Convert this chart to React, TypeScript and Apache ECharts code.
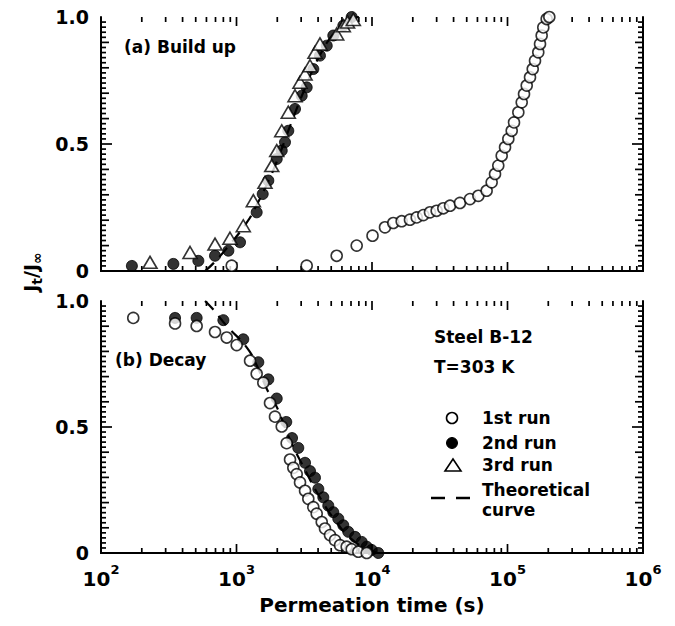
import React, { useEffect, useRef } from 'react';
import * as echarts from 'echarts';

const FONT = '"DejaVu Sans", "Liberation Sans", sans-serif';

// ---------- (a) Build up ----------
const buildRun1T = [922, 3296, 5487, 7709, 10090, 12470, 14360, 16560, 19060, 21380, 23920, 26790, 30000, 33590, 37670, 44580, 52850, 60950, 70150, 76400, 80900, 85500, 90600, 95900, 101400, 107400, 111700, 120200, 127300, 132400, 138600, 146600, 153500, 159600, 168700, 173800, 178700, 183700, 194600, 203500];
const buildRun1Y = [0.021, 0.021, 0.06, 0.10, 0.139, 0.172, 0.189, 0.196, 0.202, 0.211, 0.22, 0.231, 0.237, 0.247, 0.257, 0.268, 0.283, 0.296, 0.316, 0.349, 0.382, 0.415, 0.454, 0.487, 0.52, 0.552, 0.585, 0.625, 0.664, 0.697, 0.73, 0.763, 0.795, 0.828, 0.861, 0.894, 0.927, 0.959, 0.992, 1.0];

const buildRun2T = [169, 342, 523, 694, 871, 1062, 1409, 1561, 1717, 1981, 2157, 2280, 2411, 2703, 3028, 3296, 3690, 4130, 4634, 5180, 6140, 7080];
const buildRun2Y = [0.02, 0.028, 0.04, 0.06, 0.08, 0.113, 0.231, 0.303, 0.356, 0.441, 0.474, 0.507, 0.552, 0.638, 0.69, 0.723, 0.795, 0.848, 0.887, 0.927, 0.966, 1.0];

const buildRun3T = [230, 454, 694, 895, 1122, 1331, 1622, 1820, 1981, 2157, 2411, 2703, 2943, 3205, 3487, 3795, 4130, 5487, 6140, 6600, 7280];
const buildRun3Y = [0.034, 0.073, 0.106, 0.129, 0.178, 0.277, 0.349, 0.415, 0.474, 0.552, 0.625, 0.69, 0.743, 0.776, 0.808, 0.861, 0.894, 0.933, 0.966, 0.98, 0.99];

const buildTheoryT = [586, 674, 847, 1189, 1409, 1671, 1981, 2483, 3205, 4130, 5333, 6887, 8000];
const buildTheoryY = [0, 0.03, 0.09, 0.19, 0.26, 0.34, 0.43, 0.57, 0.72, 0.85, 0.94, 0.99, 1.0];

// ---------- (b) Decay ----------
const decayRun1T = [173, 352, 508, 694, 847, 1003, 1259, 1409, 1577, 1767, 1923, 2157, 2345, 2483, 2626, 2782, 2943, 3205, 3388, 3690, 3908, 4256, 4498, 4898, 5333, 5808, 6503, 7080, 7925, 9140];
const decayRun1Y = [0.933, 0.911, 0.901, 0.877, 0.855, 0.825, 0.763, 0.711, 0.676, 0.595, 0.541, 0.502, 0.436, 0.371, 0.338, 0.313, 0.28, 0.247, 0.215, 0.182, 0.156, 0.123, 0.097, 0.071, 0.051, 0.031, 0.025, 0.015, 0.005, 0.0];

const decayRun2T = [352, 508, 800, 1122, 1449, 1717, 1981, 2330, 2570, 2858, 3205, 3487, 3795, 4017, 4372, 4757, 5180, 5640, 6140, 6683, 7497, 8395, 9140, 9950, 11130];
const decayRun2Y = [0.933, 0.933, 0.924, 0.848, 0.757, 0.689, 0.613, 0.52, 0.456, 0.417, 0.358, 0.325, 0.299, 0.254, 0.221, 0.188, 0.162, 0.136, 0.11, 0.084, 0.064, 0.044, 0.025, 0.012, 0.0];

const decayTheoryT = [586, 674, 847, 1189, 1409, 1671, 1981, 2483, 3205, 4130, 5333, 6887, 8877, 11100];
const decayTheoryY = [1.0, 0.966, 0.901, 0.816, 0.745, 0.652, 0.58, 0.45, 0.33, 0.22, 0.13, 0.06, 0.02, 0.0];

// ---------- axes ----------
const xMin = 100;
const xMax = 1000000;
const decadeTicks = [1000, 10000, 100000];
const minorLogTicks = [200, 300, 400, 500, 600, 700, 800, 900, 2000, 3000, 4000, 5000, 6000, 7000, 8000, 9000, 20000, 30000, 40000, 50000, 60000, 70000, 80000, 90000, 200000, 300000, 400000, 500000, 600000, 700000, 800000, 900000];
const yLabelValues = [0, 0.5, 1.0];
const yLabelTexts = ['0', '0.5', '1.0'];
const yMinorStep = 0.02;

const zip = (t: number[], y: number[]) => t.map((v, i) => [v, y[i]]);

export default function App() {
  const ref = useRef<HTMLDivElement>(null);

  useEffect(() => {
    if (!ref.current) return;
    const chart = echarts.init(ref.current, undefined, { renderer: 'svg' });

    const black = '#000';
    const grids = [
      { left: 101, top: 17, width: 542, height: 254 },
      { left: 101, top: 301, width: 542, height: 252 },
    ];

    const yLabelFmt = (v: number) => {
      for (let i = 0; i < yLabelValues.length; i++) {
        if (Math.abs(v - yLabelValues[i]) < 1e-6) return yLabelTexts[i];
      }
      return '';
    };

    const makeY = (gi: number, pos: 'left' | 'right') => ({
      gridIndex: gi,
      type: 'value',
      position: pos,
      min: 0,
      max: 1,
      interval: 0.5,
      axisLine: { show: true, lineStyle: { color: black, width: 2 } },
      axisTick: { show: false },
      minorTick: { show: false },
      splitLine: { show: false },
      axisLabel: {
        show: pos === 'left',
        formatter: yLabelFmt,
        margin: 12,
        color: black,
        fontFamily: FONT,
        fontWeight: 'bold',
        fontSize: 19,
      },
    });

    const makeX = (gi: number, pos: 'bottom' | 'top', labels: boolean) => ({
      gridIndex: gi,
      type: 'log',
      logBase: 10,
      position: pos,
      min: xMin,
      max: xMax,
      axisLine: { show: true, lineStyle: { color: black, width: 2 } },
      axisTick: { show: false },
      splitLine: { show: false },
      minorTick: { show: false },
      name: labels ? 'Permeation time (s)' : '',
      nameLocation: 'middle',
      nameGap: 42,
      nameTextStyle: { color: black, fontFamily: FONT, fontWeight: 'bold', fontSize: 20 },
      axisLabel: labels
        ? {
            show: true,
            margin: 10,
            formatter: (v: number) => `{b|10}{s|${Math.round(Math.log10(v))}}`,
            rich: {
              b: { fontSize: 20, fontWeight: 'bold', fontFamily: FONT, color: black, verticalAlign: 'bottom', lineHeight: 26 },
              s: { fontSize: 13, fontWeight: 'bold', fontFamily: FONT, color: black, verticalAlign: 'top', lineHeight: 26 },
            },
          }
        : { show: false },
    });

    const tickW = 1.7;

    // x ticks (decade + minor), drawn at bottom and top of a grid through the log scale
    const xTickSeries = (gi: number) => ({
      type: 'custom',
      xAxisIndex: gi * 2,
      yAxisIndex: gi * 2,
      silent: true,
      data: [
        ...decadeTicks.map((v) => [v, 0.5, 9]),
        ...minorLogTicks.map((v) => [v, 0.5, 5]),
      ],
      encode: { x: 0, y: 1 },
      renderItem: (params: any, api: any) => {
        const v = api.value(0);
        const len = api.value(2);
        const b = api.coord([v, 0]);
        const t = api.coord([v, 1]);
        return {
          type: 'group',
          children: [
            { type: 'rect', shape: { x: b[0] - tickW / 2, y: b[1] - len, width: tickW, height: len }, style: { fill: '#000' } },
            { type: 'rect', shape: { x: t[0] - tickW / 2, y: t[1], width: tickW, height: len }, style: { fill: '#000' } },
          ],
        };
      },
      z: 1,
    });

    // y ticks every 0.02 (longer at 0.1, longest at 0.5), on left and right
    const yTickData: number[][] = [];
    const nY = Math.round(1 / yMinorStep);
    for (let i = 1; i < nY; i++) {
      const v = i * yMinorStep;
      const len = i % 25 === 0 ? 11 : i % 5 === 0 ? 8 : 5;
      yTickData.push([1000, v, len]);
    }
    const yTickSeries = (gi: number) => ({
      type: 'custom',
      xAxisIndex: gi * 2,
      yAxisIndex: gi * 2,
      silent: true,
      data: yTickData.map((d) => d.slice()),
      encode: { x: 0, y: 1 },
      renderItem: (params: any, api: any) => {
        const v = api.value(1);
        const len = api.value(2);
        const l = api.coord([xMin, v]);
        const r = api.coord([xMax, v]);
        return {
          type: 'group',
          children: [
            { type: 'rect', shape: { x: l[0], y: l[1] - tickW / 2, width: len, height: tickW }, style: { fill: '#000' } },
            { type: 'rect', shape: { x: r[0] - len, y: r[1] - tickW / 2, width: len, height: tickW }, style: { fill: '#000' } },
          ],
        };
      },
      z: 1,
    });

    const openStyle = { color: '#fff', borderColor: black, borderWidth: 1.6 };
    const filledStyle = { color: black, borderColor: black, borderWidth: 1 };

    const theory = (gi: number, t: number[], y: number[]) => ({
      type: 'line',
      name: 'Theoretical curve',
      xAxisIndex: gi * 2,
      yAxisIndex: gi * 2,
      data: zip(t, y),
      smooth: true,
      showSymbol: false,
      symbol: 'none',
      lineStyle: { color: black, width: 2.2, type: [12, 8] },
      z: 2,
    });

    const scatter = (gi: number, name: string, t: number[], y: number[], kind: 'open' | 'filled' | 'tri', z: number) => ({
      type: 'scatter',
      name,
      xAxisIndex: gi * 2,
      yAxisIndex: gi * 2,
      data: zip(t, y),
      symbol: kind === 'tri' ? 'triangle' : 'circle',
      symbolSize: kind === 'tri' ? [14, 12] : 11,
      itemStyle: kind === 'filled' ? filledStyle : openStyle,
      z,
    });

    const txt = (x: number, y: number, text: string, size = 17) => ({
      type: 'text',
      x,
      y,
      style: {
        text,
        fill: black,
        font: `bold ${size}px ${FONT}`,
        align: 'left',
        verticalAlign: 'middle',
      },
    });

    const option: any = {
      animation: false,
      backgroundColor: '#fff',
      grid: grids,
      xAxis: [makeX(0, 'bottom', false), makeX(0, 'top', false), makeX(1, 'bottom', true), makeX(1, 'top', false)],
      yAxis: [makeY(0, 'left'), makeY(0, 'right'), makeY(1, 'left'), makeY(1, 'right')],
      series: [
        xTickSeries(0),
        yTickSeries(0),
        xTickSeries(1),
        yTickSeries(1),
        theory(0, buildTheoryT, buildTheoryY),
        scatter(0, '2nd run', buildRun2T, buildRun2Y, 'filled', 3),
        scatter(0, '1st run', buildRun1T, buildRun1Y, 'open', 4),
        scatter(0, '3rd run', buildRun3T, buildRun3Y, 'tri', 5),
        theory(1, decayTheoryT, decayTheoryY),
        scatter(1, '2nd run', decayRun2T, decayRun2Y, 'filled', 3),
        scatter(1, '1st run', decayRun1T, decayRun1Y, 'open', 4),
      ],
      graphic: [
        txt(124, 47, '(a) Build up'),
        txt(115, 360, '(b) Decay'),
        txt(434, 337, 'Steel B-12'),
        txt(434, 367, 'T=303 K'),
        { type: 'circle', shape: { cx: 452, cy: 418, r: 5.5 }, style: { fill: '#fff', stroke: black, lineWidth: 1.6 } },
        txt(482, 418, '1st run'),
        { type: 'circle', shape: { cx: 452, cy: 443, r: 5.5 }, style: { fill: black, stroke: black, lineWidth: 1 } },
        txt(482, 443, '2nd run'),
        { type: 'polygon', shape: { points: [[445, 471], [461, 471], [453, 459]] }, style: { fill: '#fff', stroke: black, lineWidth: 1.6 } },
        txt(482, 465, '3rd run'),
        { type: 'line', shape: { x1: 431, y1: 498, x2: 445, y2: 498 }, style: { stroke: black, lineWidth: 2.5 } },
        { type: 'line', shape: { x1: 456, y1: 498, x2: 470, y2: 498 }, style: { stroke: black, lineWidth: 2.5 } },
        txt(482, 490, 'Theoretical'),
        txt(482, 510, 'curve'),
        {
          type: 'text',
          x: 31,
          y: 272,
          rotation: Math.PI / 2,
          style: {
            text: '{n|J}{s|t}{n|/J}{s|∞}',
            align: 'center',
            verticalAlign: 'middle',
            rich: {
              n: { fontSize: 19, fontWeight: 'bold', fontFamily: FONT, fill: black, verticalAlign: 'middle', lineHeight: 26 },
              s: { fontSize: 14, fontWeight: 'bold', fontFamily: FONT, fill: black, verticalAlign: 'bottom', lineHeight: 26 },
            },
          },
        },
      ],
    };

    chart.setOption(option);
    return () => chart.dispose();
  }, []);

  return (
    <div
      ref={ref}
      style={{ position: 'absolute', left: 0, top: 0, width: 675, height: 626 }}
    />
  );
}
